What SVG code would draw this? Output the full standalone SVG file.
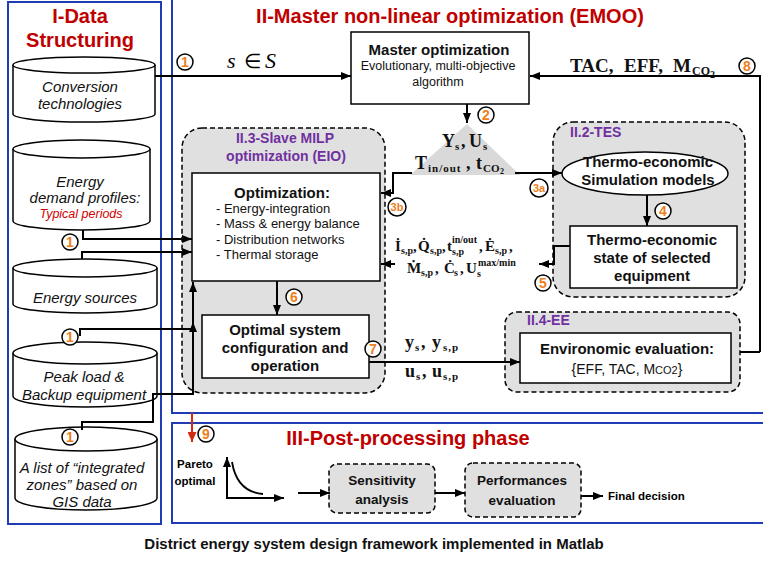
<svg xmlns="http://www.w3.org/2000/svg" width="763" height="562" viewBox="0 0 763 562">
<defs>
<marker id="ah" markerWidth="10" markerHeight="8" refX="10" refY="4" orient="auto" markerUnits="userSpaceOnUse"><path d="M0,0 L10,4 L0,8 Z" fill="#000"/></marker>
<marker id="ahr" markerWidth="10" markerHeight="9" refX="10" refY="4.5" orient="auto" markerUnits="userSpaceOnUse"><path d="M0,0 L10,4.5 L0,9 Z" fill="#d42a10"/></marker>
</defs>
<style>
text{font-family:"Liberation Sans",Arial,sans-serif}
.panel{fill:none;stroke:#1f3cb4;stroke-width:2}
.title{font-weight:bold;font-size:20px;fill:#c00000;text-anchor:middle}
.sub{font-weight:bold;font-size:14px;fill:#7030a0}
.cyl path{fill:#fff;stroke:#000;stroke-width:1.5}
.cyl text{font-style:italic;font-size:15px;text-anchor:middle;fill:#111}
.box{fill:#fff;stroke:#000;stroke-width:1.5}
.dash{fill:#e0e0e0;stroke:#000;stroke-width:1.5;stroke-dasharray:5 3}
.b{font-weight:bold;font-size:15px;text-anchor:middle;fill:#111}
.r{font-size:13px;fill:#111}
.c{text-anchor:middle}
.con{fill:none;stroke:#000;stroke-width:2}
.badge circle{fill:#fff;stroke:#000;stroke-width:1.5}
.badge text{font-weight:bold;font-size:14px;fill:#ee7f1b;text-anchor:middle}
.m{font-family:"Liberation Serif","Times New Roman",serif;font-weight:bold;font-size:18px;fill:#111}
.ms{font-family:"Liberation Serif","Times New Roman",serif;font-weight:bold;font-size:11px;fill:#111}
.f{font-family:"Liberation Serif","Times New Roman",serif;font-weight:bold;font-size:15px;fill:#111}
.fs{font-family:"Liberation Serif","Times New Roman",serif;font-weight:bold;font-size:10px;fill:#111}
</style>

<!-- panels -->
<rect class="panel" x="8" y="2" width="153" height="522"/>
<rect class="panel" x="172" y="-5" width="600" height="418"/>
<rect class="panel" x="172" y="423" width="600" height="100"/>
<text class="title" x="80" y="23">I-Data</text>
<text class="title" x="80" y="47">Structuring</text>
<text class="title" x="450" y="23">II-Master non-linear optimization (EMOO)</text>
<text class="title" x="408" y="445">III-Post-processing phase</text>

<!-- data cylinders -->
<g id="cyl-conversion" class="cyl">
<path d="M13,65 A71,8 0 0 1 155,65 V114 A71,8 0 0 1 13,114 Z"/>
<path d="M13,65 A71,8 0 0 0 155,65" fill="none"/>
<text x="80" y="92">Conversion</text>
<text x="80" y="109">technologies</text>
</g>
<g id="cyl-demand" class="cyl">
<path d="M13,149 A68.5,9 0 0 1 150,149 V221 A68.5,9 0 0 1 13,221 Z"/>
<path d="M13,149 A68.5,9 0 0 0 150,149" fill="none"/>
<text x="80" y="187">Energy</text>
<text x="85" y="203">demand profiles:</text>
<text x="81" y="218" style="fill:#d00000;font-size:12.5px">Typical periods</text>
</g>
<g id="cyl-sources" class="cyl">
<path d="M13,268 A72,9 0 0 1 157,268 V304 A72,9 0 0 1 13,304 Z"/>
<path d="M13,268 A72,9 0 0 0 157,268" fill="none"/>
<text x="85" y="303">Energy sources</text>
</g>
<g id="cyl-peak" class="cyl">
<path d="M13,353 A72,11 0 0 1 157,353 V396 A72,11 0 0 1 13,396 Z"/>
<path d="M13,353 A72,11 0 0 0 157,353" fill="none"/>
<text x="84" y="382">Peak load &amp;</text>
<text x="84" y="400">Backup equipment</text>
</g>
<g id="cyl-zones" class="cyl">
<path d="M15,439 A71,12 0 0 1 157,439 V498 A71,12 0 0 1 15,498 Z"/>
<path d="M15,439 A71,12 0 0 0 157,439" fill="none"/>
<text x="82" y="473">A list of “integrated</text>
<text x="82" y="490">zones” based on</text>
<text x="82" y="507">GIS data</text>
</g>

<!-- module containers -->
<g id="slave">
<rect class="dash" x="182" y="128" width="203" height="265" rx="20"/>
<text class="sub c" x="285" y="143">II.3-Slave MILP</text>
<text class="sub c" x="286" y="161">optimization (EIO)</text>
</g>
<g id="tes">
<rect class="dash" x="553" y="122" width="192" height="175" rx="20"/>
<text class="sub" x="570" y="137">II.2-TES</text>
</g>
<g id="ee">
<rect class="dash" x="505" y="312" width="235" height="80" rx="12"/>
<text class="sub" x="527" y="325">II.4-EE</text>
</g>

<!-- nodes -->
<g id="master">
<rect class="box" x="351" y="32" width="178" height="72"/>
<text class="b" x="439" y="55">Master optimization</text>
<text class="r c" x="438" y="70" style="font-size:12.5px">Evolutionary, multi-objective</text>
<text class="r c" x="438" y="86" style="font-size:12.5px">algorithm</text>
</g>
<g id="triangle">
<path d="M467,124 L520,175 L410,175 Z" fill="#d9d9d9"/>
<text class="m" x="442" y="147">Y</text><text class="ms" x="455" y="150">s</text><text class="m" x="461" y="147">,</text>
<text class="m" x="469" y="147">U</text><text class="ms" x="483" y="150">s</text>
<text class="m" x="415" y="169">T</text><text class="ms" x="428" y="172" letter-spacing="1">in/out</text><text class="m" x="466" y="169">,</text>
<text class="m" x="476" y="169">t</text><text class="ms" x="483" y="172">CO</text><text class="ms" x="500" y="174" style="font-size:8px">2</text>
</g>
<g id="optimization">
<rect class="box" x="192" y="173" width="188" height="108"/>
<text class="b" x="282" y="198">Optimization:</text>
<text class="r" x="216" y="213">- Energy-integration</text>
<text class="r" x="216" y="228">- Mass &amp; energy balance</text>
<text class="r" x="216" y="244">- Distribution networks</text>
<text class="r" x="216" y="259">- Thermal storage</text>
</g>
<g id="optimal">
<rect class="box" x="202" y="315" width="167" height="63"/>
<text class="b" x="285" y="335">Optimal system</text>
<text class="b" x="285" y="353">configuration and</text>
<text class="b" x="285" y="371">operation</text>
</g>
<g id="simulation">
<ellipse class="box" cx="645" cy="173.5" rx="83" ry="21.5"/>
<text class="b" x="648" y="167">Thermo-economic</text>
<text class="b" x="648" y="185">Simulation models</text>
</g>
<g id="state">
<rect class="box" x="570" y="226" width="167" height="62"/>
<text class="b" x="652" y="245">Thermo-economic</text>
<text class="b" x="652" y="263">state of selected</text>
<text class="b" x="652" y="281">equipment</text>
</g>
<g id="environomic">
<rect class="box" x="520" y="333" width="211" height="50"/>
<text class="b" x="627" y="354">Environomic evaluation:</text>
<text class="r c" x="627" y="374" style="font-size:14px">{EFF, TAC, M<tspan style="font-size:11px">CO2</tspan>}</text>
</g>
<g id="pareto">
<text x="195" y="468" class="c" style="font-weight:bold;font-size:11.5px">Pareto</text>
<text x="195" y="485" class="c" style="font-weight:bold;font-size:11.5px">optimal</text>
<path class="con" d="M227,498 V457" marker-end="url(#ah)"/>
<path class="con" d="M226,498 H284" marker-end="url(#ah)"/>
<path d="M232,462 Q237,492 263,494" fill="none" stroke="#000" stroke-width="1.8"/>
</g>
<g id="sensitivity">
<rect class="dash" x="329" y="464" width="106" height="49" rx="8"/>
<text class="b" x="382" y="485" style="font-size:13.5px">Sensitivity</text>
<text class="b" x="382" y="504" style="font-size:13.5px">analysis</text>
</g>
<g id="performances">
<rect class="dash" x="465" y="463" width="116" height="54" rx="8"/>
<text class="b" x="522" y="485" style="font-size:13.5px">Performances</text>
<text class="b" x="522" y="505" style="font-size:13.5px">evaluation</text>
</g>
<text x="608" y="500" style="font-weight:bold;font-size:11.5px">Final decision</text>

<!-- connectors -->
<g id="connectors">
<path class="con" d="M155,76 H351" marker-end="url(#ah)"/>
<path class="con" d="M760,352 V76 H530" marker-end="url(#ah)"/>
<path class="con" d="M740,352 H760"/>
<path class="con" d="M83,230 V239 H192" marker-end="url(#ah)"/>
<path class="con" d="M82,259 V252 H192" marker-end="url(#ah)"/>
<path class="con" d="M80,336 V329 H193"/>
<path class="con" d="M193,329 V322" marker-end="url(#ah)"/>
<path class="con" d="M82,430 V422 H153 V394 H193 V282" marker-end="url(#ah)"/>
<path class="con" d="M467,104 V123" marker-end="url(#ah)"/>
<path class="con" d="M515,173 H562" marker-end="url(#ah)"/>
<path class="con" d="M412,173 H393 V193 H381" marker-end="url(#ah)"/>
<path class="con" d="M647,195 V226" marker-end="url(#ah)"/>
<path class="con" d="M570,246 H554 V264 H539" marker-end="url(#ah)"/>
<path class="con" d="M395,264 H381" marker-end="url(#ah)"/>
<path class="con" d="M277,281 V315" marker-end="url(#ah)"/>
<path class="con" d="M369,362 H520" marker-end="url(#ah)"/>
<path d="M192,413 V442" fill="none" stroke="#d42a10" stroke-width="2" marker-end="url(#ahr)"/>
<path class="con" d="M298,493 H330" marker-end="url(#ah)"/>
<path class="con" d="M435,493 H465" marker-end="url(#ah)"/>
<path class="con" d="M581,496 H603" marker-end="url(#ah)"/>
</g>

<!-- connector labels -->
<g id="labels">
<text x="227" y="68" style="font-family:'Liberation Serif',serif;font-style:italic;font-size:22px">s</text>
<text x="244" y="68" style="font-family:'Liberation Serif',serif;font-size:20px">∈</text>
<text x="265" y="68" style="font-family:'Liberation Serif',serif;font-style:italic;font-size:22px">S</text>

<text class="m" x="570" y="72" style="font-size:19px">TAC,</text>
<text class="m" x="624" y="72" style="font-size:19px">EFF,</text>
<text class="m" x="673" y="72" style="font-size:19px">M</text>
<text class="ms" x="692" y="75" style="font-size:12px">CO</text>
<text class="ms" x="710" y="78" style="font-size:10px">2</text>

<text class="f" x="395" y="251">İ</text><text class="fs" x="401" y="254">s,p</text><text class="f" x="413" y="251">,</text>
<text class="f" x="418" y="251">Q̇</text><text class="fs" x="430" y="254">s,p</text><text class="f" x="442" y="251">,</text>
<text class="f" x="447" y="251">t</text><text class="fs" x="452" y="243">in/out</text><text class="fs" x="452" y="255">s,p</text><text class="f" x="479" y="251">,</text>
<text class="f" x="485" y="251">Ė</text><text class="fs" x="495" y="254">s,p</text><text class="f" x="509" y="251">,</text>

<text class="f" x="407" y="273">Ṁ</text><text class="fs" x="421" y="276">s,p</text><text class="f" x="435" y="273">,</text>
<text class="f" x="444" y="273">Ċ</text><text class="fs" x="454" y="276">s</text><text class="f" x="460" y="273">,</text>
<text class="f" x="466" y="273">U</text><text class="fs" x="477" y="277">s</text><text class="fs" x="478" y="266">max/min</text>

<text class="m" x="405" y="348">y</text><text class="ms" x="415" y="351">s</text><text class="m" x="421" y="348">,</text>
<text class="m" x="432" y="348">y</text><text class="ms" x="443" y="351" letter-spacing="1">s,p</text>
<text class="m" x="405" y="377">u</text><text class="ms" x="416" y="380">s</text><text class="m" x="422" y="377">,</text>
<text class="m" x="432" y="377">u</text><text class="ms" x="443" y="380" letter-spacing="1">s,p</text>
</g>

<!-- step badges -->
<g class="badge" id="b1a"><circle cx="185" cy="62" r="8"/><text x="185" y="67">1</text></g>
<g class="badge" id="b1b"><circle cx="70" cy="242" r="8"/><text x="70" y="247">1</text></g>
<g class="badge" id="b1c"><circle cx="70" cy="337" r="8"/><text x="70" y="342">1</text></g>
<g class="badge" id="b1d"><circle cx="70" cy="437" r="8"/><text x="70" y="442">1</text></g>
<g class="badge" id="b2"><circle cx="486" cy="115" r="8"/><text x="486" y="120">2</text></g>
<g class="badge" id="b3a"><circle cx="539" cy="188" r="9"/><text x="539" y="192" style="font-size:11px">3a</text></g>
<g class="badge" id="b3b"><circle cx="397" cy="207" r="9"/><text x="397" y="211" style="font-size:11px">3b</text></g>
<g class="badge" id="b4"><circle cx="663" cy="211" r="8"/><text x="663" y="216">4</text></g>
<g class="badge" id="b5"><circle cx="543" cy="283" r="8"/><text x="543" y="288">5</text></g>
<g class="badge" id="b6"><circle cx="294" cy="297" r="8"/><text x="294" y="302">6</text></g>
<g class="badge" id="b7"><circle cx="373" cy="349" r="8"/><text x="373" y="354">7</text></g>
<g class="badge" id="b8"><circle cx="747" cy="66" r="8"/><text x="747" y="71">8</text></g>
<g class="badge" id="b9"><circle cx="206" cy="434" r="8"/><text x="206" y="439">9</text></g>

<text x="374" y="549" class="c" style="font-weight:bold;font-size:15px;fill:#111">District energy system design framework implemented in Matlab</text>
</svg>
